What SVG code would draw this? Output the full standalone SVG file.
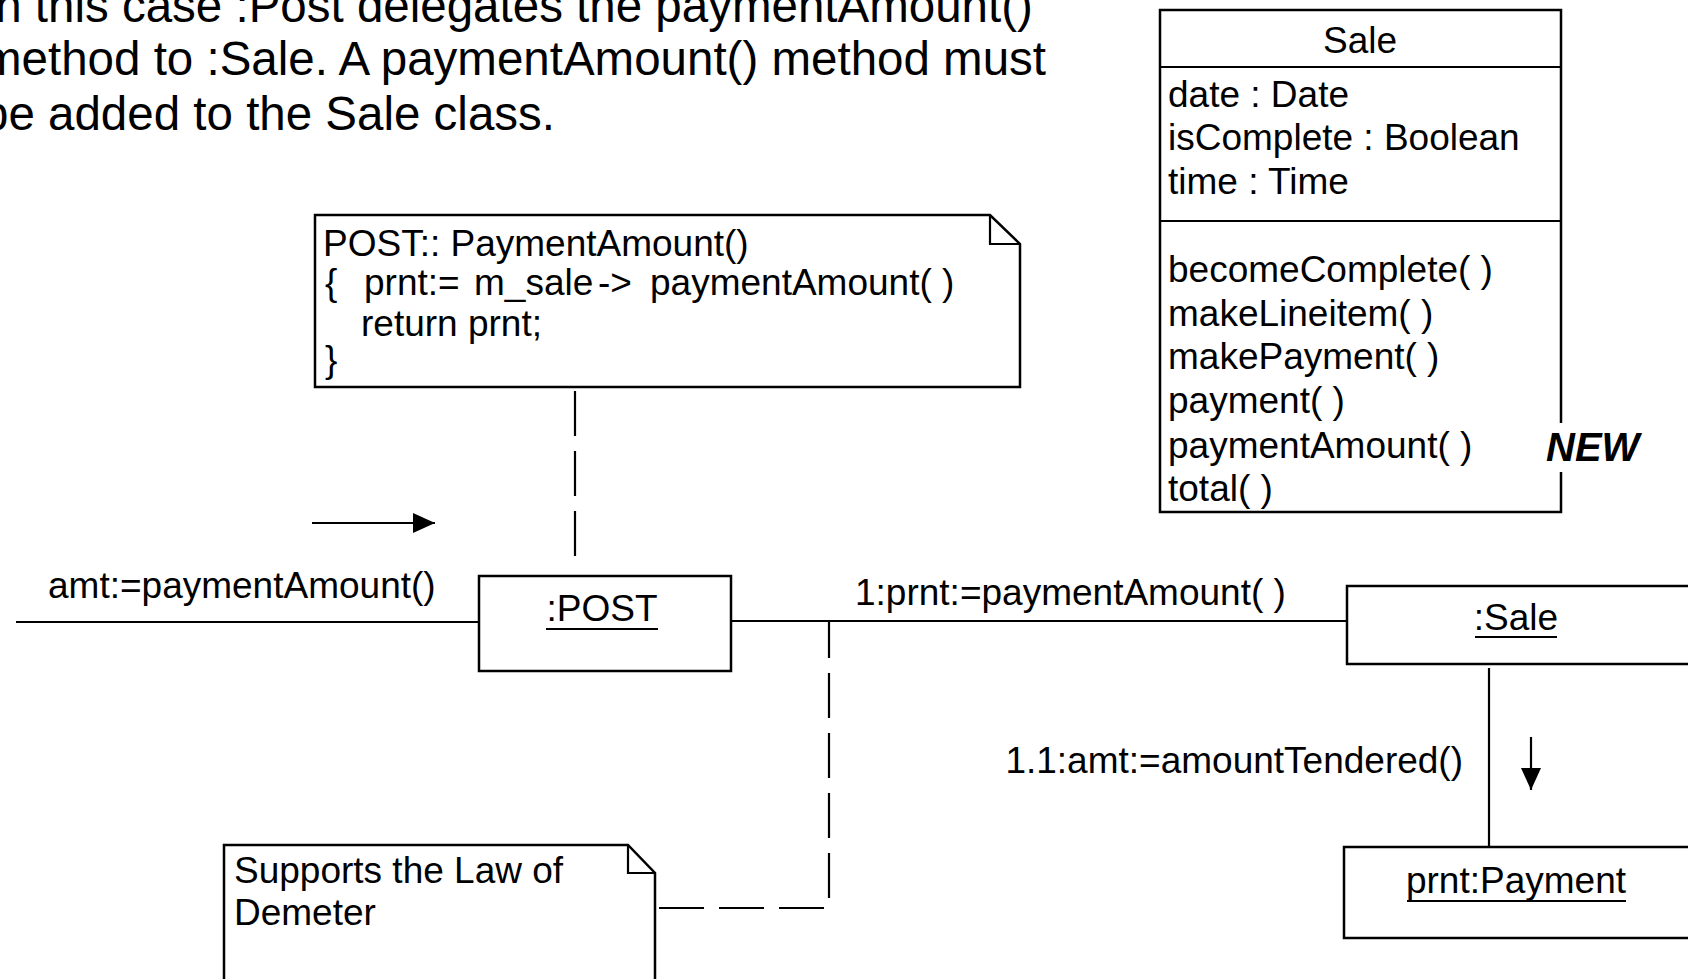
<svg xmlns="http://www.w3.org/2000/svg" width="1688" height="979" viewBox="0 0 1688 979">
<style>
  .bg { fill: #ffffff; }
  .box { fill: #ffffff; stroke: #000; stroke-width: 2.5; }
  .ln { fill: none; stroke: #000; stroke-width: 2.2; }
  .dash { fill: none; stroke: #000; stroke-width: 2.2; stroke-dasharray: 45 15; }
  .t { font-family: "Liberation Sans", Arial, sans-serif; font-size: 37px; fill: #000; }
  .mid { text-anchor: middle; }
  .cap { font-family: "Liberation Sans", Arial, sans-serif; font-size: 47.5px; fill: #000; }
  .new { font-family: "Liberation Sans", Arial, sans-serif; font-size: 40px; font-weight: bold; font-style: italic; fill: #000; }
</style>
<defs>
  <marker id="arr" markerUnits="userSpaceOnUse" markerWidth="22" markerHeight="20" refX="22" refY="10" orient="auto">
    <path d="M0,0 L22,10 L0,20 Z" fill="#000"/>
  </marker>
</defs>
<rect class="bg" x="0" y="0" width="1688" height="979"/>

<g id="caption">
  <text class="cap" x="-18" y="22">In this case :Post delegates the paymentAmount()</text>
  <text class="cap" x="-18" y="75">method to :Sale. A paymentAmount() method must</text>
  <text class="cap" x="-18" y="130">be added to the Sale class.</text>
</g>

<g id="connectors">
  <line class="ln" x1="16" y1="622" x2="479" y2="622"/>
  <line class="ln" x1="312" y1="523" x2="435" y2="523" marker-end="url(#arr)"/>
  <line class="ln" x1="731" y1="621" x2="1347" y2="621"/>
  <line class="ln" x1="1489" y1="668" x2="1489" y2="847"/>
  <line class="ln" x1="1531" y1="737" x2="1531" y2="790" marker-end="url(#arr)"/>
  <line class="dash" x1="575" y1="391" x2="575" y2="556"/>
  <path class="dash" d="M659,908 L829,908 L829,621"/>
  <text class="t" x="48" y="598">amt:=paymentAmount()</text>
  <text class="t" x="855" y="605">1:prnt:=paymentAmount( )</text>
  <text class="t" x="1463" y="773" text-anchor="end">1.1:amt:=amountTendered()</text>
</g>

<g id="note-post">
  <path class="box" d="M315,215 L990,215 L1020,244 L1020,387 L315,387 Z"/>
  <path class="ln" d="M990,215 L990,244 L1020,244"/>
  <text class="t" x="323" y="256">POST:: PaymentAmount()</text>
  <text class="t" y="295"><tspan x="325">{</tspan><tspan x="364">prnt:=</tspan><tspan x="474">m_sale</tspan><tspan x="598">-&gt;</tspan><tspan x="650">paymentAmount( )</tspan></text>
  <text class="t" x="361" y="336">return prnt;</text>
  <text class="t" x="325" y="372">}</text>
</g>

<g id="class-sale">
  <path class="box" d="M1561,423 L1561,10 L1160,10 L1160,512 L1561,512 L1561,472"/>
  <line class="ln" x1="1160" y1="67" x2="1561" y2="67"/>
  <line class="ln" x1="1160" y1="221" x2="1561" y2="221"/>
  <text class="t mid" x="1360" y="53">Sale</text>
  <text class="t" x="1168" y="107">date : Date</text>
  <text class="t" x="1168" y="150">isComplete : Boolean</text>
  <text class="t" x="1168" y="194">time : Time</text>
  <text class="t" x="1168" y="282">becomeComplete( )</text>
  <text class="t" x="1168" y="326">makeLineitem( )</text>
  <text class="t" x="1168" y="369">makePayment( )</text>
  <text class="t" x="1168" y="413">payment( )</text>
  <text class="t" x="1168" y="458">paymentAmount( )</text>
  <text class="t" x="1168" y="501">total( )</text>
  <text class="new" x="1546" y="461">NEW</text>
</g>

<g id="obj-post">
  <rect class="box" x="479" y="576" width="252" height="95"/>
  <text class="t mid" x="602" y="621">:POST</text>
  <line class="ln" x1="546" y1="629" x2="658" y2="629"/>
</g>

<g id="obj-sale">
  <rect class="box" x="1347" y="586" width="360" height="78"/>
  <text class="t mid" x="1516" y="630">:Sale</text>
  <line class="ln" x1="1475" y1="637" x2="1557" y2="637"/>
</g>

<g id="obj-payment">
  <rect class="box" x="1344" y="847" width="360" height="91"/>
  <text class="t mid" x="1516" y="893">prnt:Payment</text>
  <line class="ln" x1="1407" y1="901" x2="1626" y2="901"/>
</g>

<g id="note-demeter">
  <path class="box" d="M224,1000 L224,845 L628,845 L655,873 L655,1000"/>
  <path class="ln" d="M628,845 L628,873 L655,873"/>
  <text class="t" x="234" y="883">Supports the Law of</text>
  <text class="t" x="234" y="925">Demeter</text>
</g>
</svg>
